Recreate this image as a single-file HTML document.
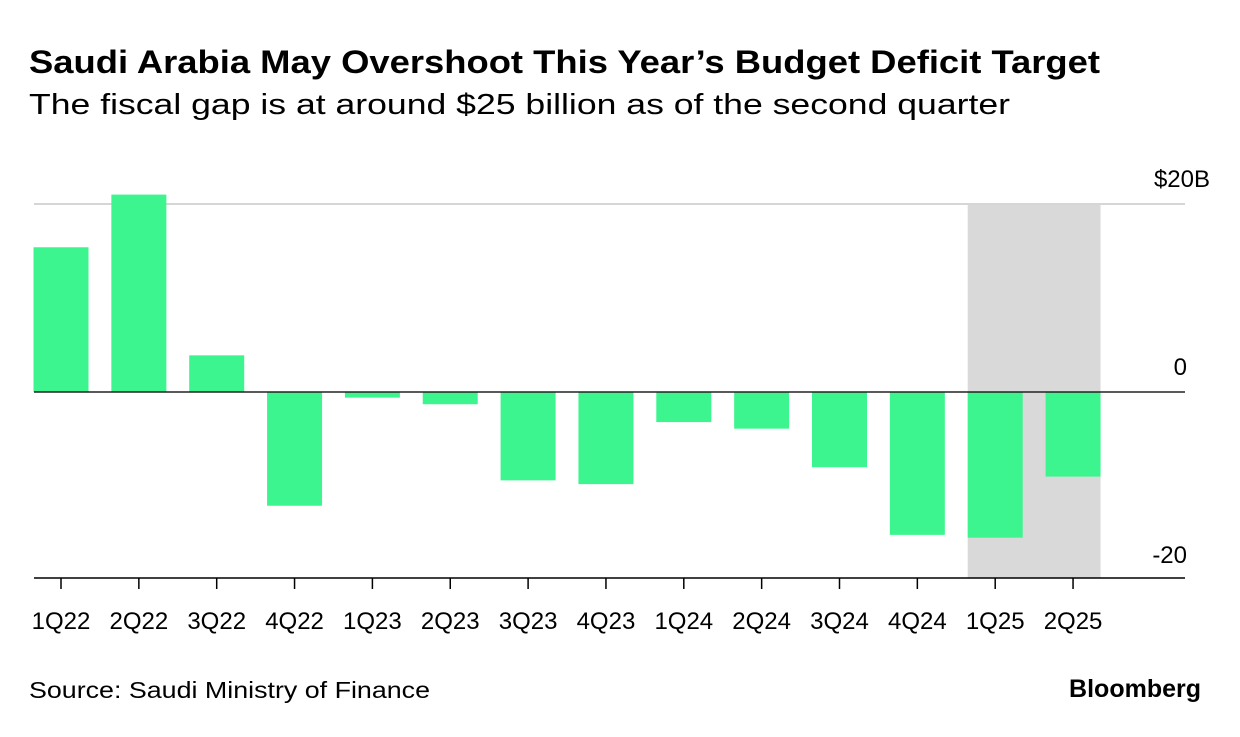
<!DOCTYPE html>
<html><head><meta charset="utf-8">
<style>
body{margin:0;background:#fff;width:1240px;height:732px;overflow:hidden;font-family:"Liberation Sans",Arial,sans-serif;}
svg text{font-family:"Liberation Sans",Arial,sans-serif;}
</style></head>
<body>
<svg width="1240" height="732" viewBox="0 0 1240 732">
<text x="29" y="73" font-size="32" font-weight="bold" fill="#000" textLength="1071" lengthAdjust="spacingAndGlyphs">Saudi Arabia May Overshoot This Year’s Budget Deficit Target</text>
<text x="29" y="114" font-size="29" fill="#000" textLength="981" lengthAdjust="spacingAndGlyphs">The fiscal gap is at around $25 billion as of the second quarter</text>
<g id="plot"></g>
<text x="29" y="698" font-size="23" fill="#000" textLength="401" lengthAdjust="spacingAndGlyphs">Source: Saudi Ministry of Finance</text>
<text x="1201" y="697" font-size="25" font-weight="bold" text-anchor="end" fill="#000">Bloomberg</text>
</svg>
<script>
const categories=["1Q22","2Q22","3Q22","4Q22","1Q23","2Q23","3Q23","4Q23","1Q24","2Q24","3Q24","4Q24","1Q25","2Q25"];
const values=[15.4,21.0,3.9,-12.1,-0.6,-1.3,-9.4,-9.8,-3.2,-3.9,-8.0,-15.2,-15.5,-9.0];
const yTicks=[20,0,-20];
const yTickLabels=["$20B","0","-20"];
const shadedCats=["1Q25","2Q25"];
const NS="http://www.w3.org/2000/svg";
const g=document.getElementById('plot');
const y=v=>392-v*9.4;
const x=i=>61+i*77.85;
const bw=55;
function mk(t,a){const e=document.createElementNS(NS,t);for(const k in a)e.setAttribute(k,a[k]);g.appendChild(e);return e;}
const si=categories.indexOf(shadedCats[0]),ei=categories.indexOf(shadedCats[shadedCats.length-1]);
let sh=mk('rect',{x:x(si)-bw/2,y:y(20),width:x(ei)-x(si)+bw,height:y(-20)-2-y(20),fill:'#d9d9d9'});


yTicks.forEach((t,i)=>{
  if(t===20){let l=mk('line',{x1:34,x2:1185,y1:y(t),y2:y(t),stroke:'#d6d6d6','stroke-width':2});
    
    }
  let tx=mk('text',{x:t===20?1210:1187,y:y(t)-17,'font-size':24,'text-anchor':'end',fill:'#000'});
  tx.textContent=yTickLabels[i];
  
  
});
values.forEach((v,i)=>{
  let r=mk('rect',{x:x(i)-bw/2,y:Math.min(y(v),y(0)),width:bw,height:Math.abs(y(v)-y(0)),fill:'#3df58f'});
  
  
});
let z=mk('line',{x1:34,x2:1185,y1:y(0),y2:y(0),stroke:'#222','stroke-width':1.5});


let ax=mk('line',{x1:34,x2:1185,y1:578,y2:578,stroke:'#000','stroke-width':1.5});


categories.forEach((c,i)=>{
  let tk=mk('line',{x1:x(i),x2:x(i),y1:578,y2:589,stroke:'#000','stroke-width':1.5});
  
  
  let t=mk('text',{x:x(i),y:629,'font-size':24,'text-anchor':'middle',fill:'#000'});
  t.textContent=c;
  
  
});
</script>
</body></html>
